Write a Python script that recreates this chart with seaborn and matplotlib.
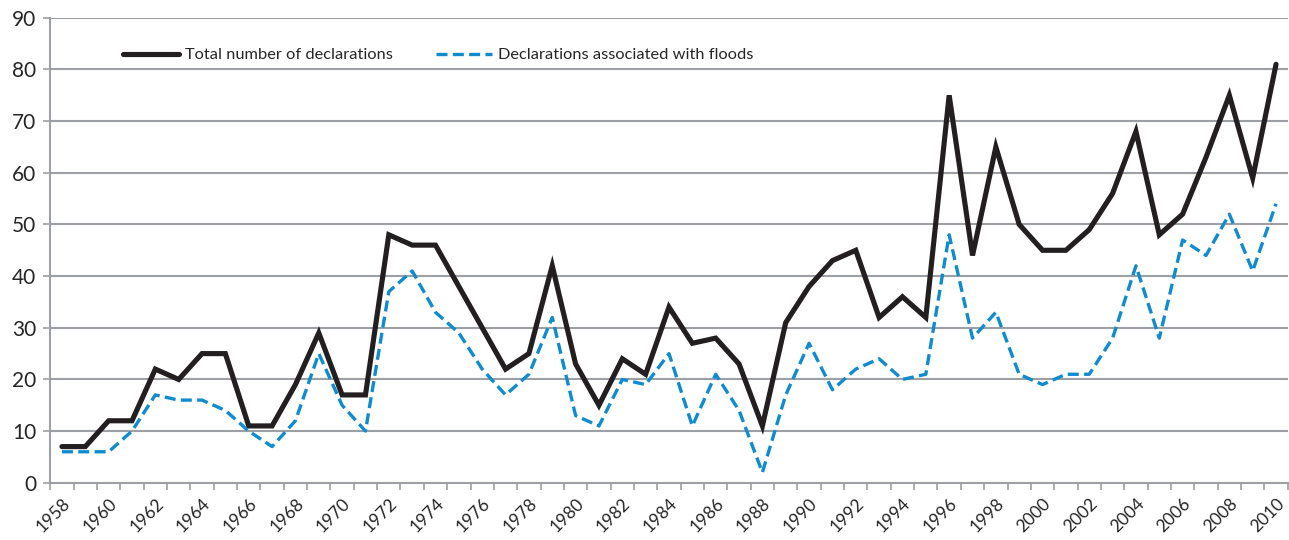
import numpy as np
import pandas as pd
import matplotlib
matplotlib.use('Agg')
import matplotlib.pyplot as plt
import seaborn as sns

# data
years = list(range(1958, 2011))
total = [7, 7, 12, 12, 22, 20, 25, 25, 11, 11,
         19, 29, 17, 17, 48, 46, 46, 38, 30, 22,
         25, 42, 23, 15, 24, 21, 34, 27, 28, 23,
         11, 31, 38, 43, 45, 32, 36, 32, 75, 44,
         65, 50, 45, 45, 49, 56, 68, 48, 52, 63,
         75, 59, 81]
floods = [6, 6, 6, 10, 17, 16, 16, 14, 10, 7,
          12, 25, 15, 10, 37, 41, 33, 29, 22, 17,
          21, 32, 13, 11, 20, 19, 25, 11, 21, 14,
          2, 17, 27, 18, 22, 24, 20, 21, 48, 28,
          33, 21, 19, 21, 21, 28, 42, 28, 47, 44,
          52, 41, 54]
label_total = 'Total number of declarations'
label_floods = 'Declarations associated with floods'

df = pd.DataFrame({'year': years, 'total': total, 'floods': floods})

sns.set_style('white')
plt.rcParams['font.family'] = ['Lato', 'DejaVu Sans']

grid_col = '#9c9fa3'
fig = plt.figure(figsize=(12.89, 5.40), dpi=100)
ax = fig.add_axes([0.039, 0.106, 0.96, 0.861])

for y in range(10, 100, 10):
    ax.axhline(y, color=grid_col, lw=1.5, zorder=0)

sns.lineplot(data=df, x='year', y='total', ax=ax, color='#231f20',
             lw=3.7, label=label_total, solid_joinstyle='miter')
sns.lineplot(data=df, x='year', y='floods', ax=ax, color='#0f8bd0',
             lw=2.4, label=label_floods)
ax.lines[-1].set_linestyle((0, (3.3, 1.6)))

ax.set_xlim(1957.5, 2010.5)
ax.set_ylim(0, 90)
ax.set_yticks(range(0, 100, 10))
ax.set_xticks(years[::2])
ax.set_xticklabels([str(y) for y in years[::2]], rotation=45,
                   ha='right', va='top', rotation_mode='anchor', fontsize=12.5)
ax.set_xticks(np.arange(1957.5, 2011, 1.0), minor=True)
ax.tick_params(bottom=True, left=True)
ax.tick_params(axis='x', which='major', length=0, pad=9)
ax.tick_params(axis='x', which='minor', bottom=True, length=5, width=1.2,
               color=grid_col, direction='out')
ax.tick_params(axis='y', length=5, width=1.2, color=grid_col, labelsize=15,
               pad=5, direction='out')
ax.set_xlabel('')
ax.set_ylabel('')

for s in ['top', 'right']:
    ax.spines[s].set_visible(False)
for s in ['left', 'bottom']:
    ax.spines[s].set_color(grid_col)
    ax.spines[s].set_linewidth(1.5)

ax.legend(loc='center left', bbox_to_anchor=(0.047, 0.92), ncol=2,
          frameon=False, fontsize=11.8, handlelength=3.4, handletextpad=0.4,
          columnspacing=2.6)

fig.savefig('out.png', dpi=100)
